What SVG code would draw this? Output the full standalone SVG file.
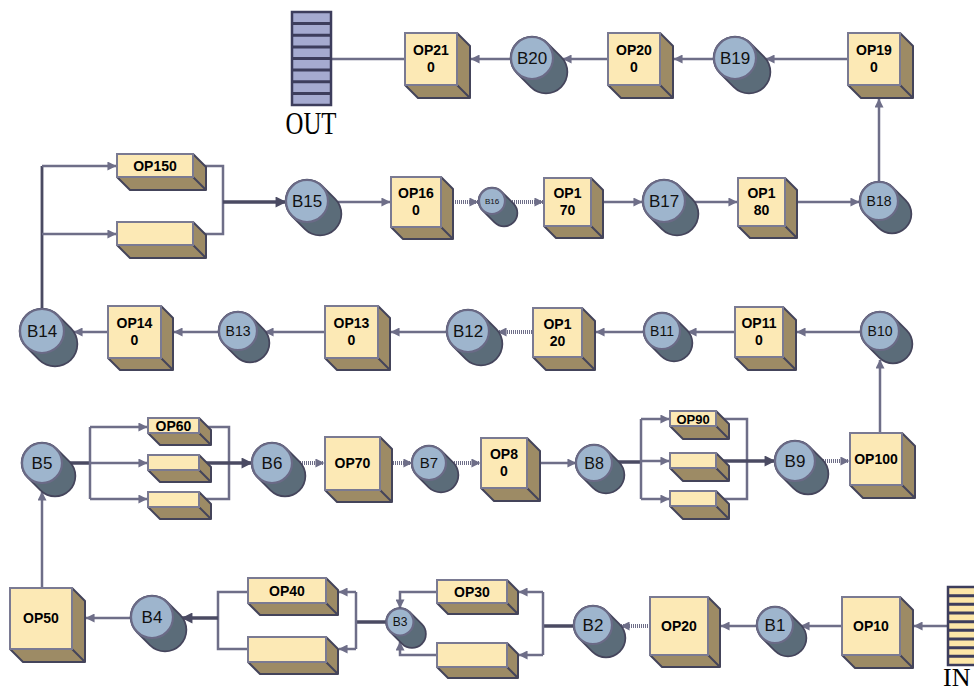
<svg xmlns="http://www.w3.org/2000/svg" width="974" height="693" viewBox="0 0 974 693">
<style>
.fr{fill:#FCE9B5;stroke:#7A7A92;stroke-width:2}
.sd{fill:#9D8B65;stroke:#44445A;stroke-width:2;stroke-linejoin:round}
.lb{font-family:"Liberation Sans",Arial,sans-serif;font-weight:bold;font-size:14px;text-anchor:middle;fill:#000}
.bl{font-family:"Liberation Sans",Arial,sans-serif;font-size:17px;text-anchor:middle;fill:#111}
.cl{fill:#9EB5CD;stroke:#6A6A86;stroke-width:2.2}
.dk{stroke:#5B6C79;stroke-linecap:round}
.dko{stroke:#45455C;stroke-linecap:round}
.c{fill:none;stroke:#6E6E88;stroke-width:2.5;marker-end:url(#a)}
.n{fill:none;stroke:#6E6E88;stroke-width:2.5}
.t{fill:none;stroke:#4A4A62;stroke-width:3.5}
.ta{fill:none;stroke:#4A4A62;stroke-width:3.5;marker-end:url(#ad)}
.h{fill:none;stroke:#6E6E88;stroke-width:4;stroke-dasharray:1 1;marker-end:url(#a)}
.stk{stroke:#3D3D5C;stroke-width:2.5}
.st{font-family:"Liberation Serif","Times New Roman",serif;font-size:31px;fill:#000}
</style>
<defs>
<marker id="a" viewBox="0 0 10 10" refX="9.5" refY="5" markerWidth="10" markerHeight="9" markerUnits="userSpaceOnUse" orient="auto"><path d="M0,0 L10,5 L0,10 z" fill="#6E6E88"/></marker>
<marker id="ad" viewBox="0 0 10 10" refX="9.5" refY="5" markerWidth="12" markerHeight="11" markerUnits="userSpaceOnUse" orient="auto"><path d="M0,0 L10,5 L0,10 z" fill="#4A4A62"/></marker>
</defs>

<g id="connectors">
<path class="c" d="M848,59 H766"/>
<path class="c" d="M720,59 H674"/>
<path class="c" d="M620,59 H563"/>
<path class="c" d="M515,59 H471"/>
<path class="n" d="M420,59 H331"/>
<path class="c" d="M879,190 V99"/>
<path class="t" d="M42,320 V166" style="stroke-width:2.8"/>
<path class="c" d="M42,166 H116"/>
<path class="c" d="M42,234 H116"/>
<path class="n" d="M200,166 H223 V234 H200"/>
<path class="ta" d="M223,202 H286"/>
<path class="c" d="M320,202 H390"/>
<path class="h" d="M445,202 H478"/>
<path class="h" d="M500,202 H543"/>
<path class="c" d="M595,202 H642"/>
<path class="c" d="M690,202 H737"/>
<path class="c" d="M790,202 H859"/>
<path class="c" d="M880,440 V360"/>
<path class="c" d="M870,332 H797"/>
<path class="c" d="M750,332 H688"/>
<path class="c" d="M650,332 H596"/>
<path class="h" d="M540,332 H498"/>
<path class="c" d="M460,332 H391"/>
<path class="c" d="M340,332 H265"/>
<path class="c" d="M230,332 H174"/>
<path class="c" d="M120,332 H74"/>
<path class="c" d="M42,600 V492"/>
<path class="t" d="M50,463 H90"/>
<path class="n" d="M90,427 V499"/>
<path class="c" d="M90,427 H147"/>
<path class="c" d="M90,463 H147"/>
<path class="c" d="M90,499 H147"/>
<path class="n" d="M205,427 H229 V499 H205"/>
<path class="ta" d="M205,463 H252"/>
<path class="h" d="M290,463 H324"/>
<path class="h" d="M385,463 H412"/>
<path class="h" d="M440,463 H480"/>
<path class="c" d="M530,463 H576"/>
<path class="t" d="M600,462 H641"/>
<path class="n" d="M641,419 V499"/>
<path class="c" d="M641,419 H669"/>
<path class="c" d="M641,461 H669"/>
<path class="c" d="M641,499 H669"/>
<path class="n" d="M720,419 H747 V499 H720"/>
<path class="ta" d="M720,461 H775"/>
<path class="h" d="M815,461 H849"/>
<path class="c" d="M960,626 H914"/>
<path class="c" d="M860,626 H801"/>
<path class="c" d="M780,626 H721"/>
<path class="h" d="M660,626 H621"/>
<path class="t" d="M590,626 H543"/>
<path class="n" d="M543,592 V655"/>
<path class="c" d="M543,592 H519"/>
<path class="c" d="M543,655 H519"/>
<path class="c" d="M450,592 H400 V608"/>
<path class="c" d="M450,655 H400 V642"/>
<path class="t" d="M395,622 H356"/>
<path class="n" d="M356,592 V649"/>
<path class="c" d="M356,592 H339"/>
<path class="c" d="M356,649 H339"/>
<path class="n" d="M260,592 H218 V649 H260"/>
<path class="ta" d="M218,618 H182"/>
<path class="c" d="M140,618 H86"/>
</g>

<g id="out">
<rect x="292" y="12" width="39" height="93" fill="#A5AAD0" class="stk"/>
<path class="stk" style="stroke-width:3" d="M292,23.6 H331 M292,35.3 H331 M292,46.9 H331 M292,58.5 H331 M292,70.1 H331 M292,81.8 H331 M292,93.4 H331"/>
<text class="st" x="311" y="134" text-anchor="middle" textLength="51" lengthAdjust="spacingAndGlyphs">OUT</text>
</g>
<g id="in">
<rect x="948" y="587" width="32" height="78" fill="#FCE6A8" class="stk"/>
<path class="stk" style="stroke-width:3" d="M948,595.7 H980 M948,604.3 H980 M948,613 H980 M948,621.7 H980 M948,630.3 H980 M948,639 H980 M948,647.7 H980 M948,656.3 H980"/>
<text class="st" x="943" y="686" style="font-size:26px">IN</text>
</g>

<g id="op210" transform="translate(405,33)"><path class="sd" d="M52,0 L65,13 L65,65 L13,65 L0,52 L52,52 Z M52,52 L65,65"/><rect class="fr" width="52" height="52"/><text class="lb" x="26" y="22">OP21</text><text class="lb" x="26" y="39">0</text></g>
<g id="op200" transform="translate(608,33)"><path class="sd" d="M52,0 L65,13 L65,65 L13,65 L0,52 L52,52 Z M52,52 L65,65"/><rect class="fr" width="52" height="52"/><text class="lb" x="26" y="22">OP20</text><text class="lb" x="26" y="39">0</text></g>
<g id="op190" transform="translate(848,33)"><path class="sd" d="M52,0 L65,13 L65,65 L13,65 L0,52 L52,52 Z M52,52 L65,65"/><rect class="fr" width="52" height="52"/><text class="lb" x="26" y="22">OP19</text><text class="lb" x="26" y="39">0</text></g>
<g id="op150" transform="translate(117,154)"><path class="sd" d="M76,0 L89,13 L89,36 L13,36 L0,23 L76,23 Z M76,23 L89,36"/><rect class="fr" width="76" height="23"/><text class="lb" x="38" y="17">OP150</text></g>
<g id="op150b" transform="translate(117,222)"><path class="sd" d="M76,0 L89,13 L89,36 L13,36 L0,23 L76,23 Z M76,23 L89,36"/><rect class="fr" width="76" height="23"/></g>
<g id="op160" transform="translate(391,177)"><path class="sd" d="M50,0 L62,12 L62,62 L12,62 L0,50 L50,50 Z M50,50 L62,62"/><rect class="fr" width="50" height="50"/><text class="lb" x="25" y="21">OP16</text><text class="lb" x="25" y="38">0</text></g>
<g id="op170" transform="translate(544,178)"><path class="sd" d="M47,0 L59,12 L59,60 L12,60 L0,48 L47,48 Z M47,48 L59,60"/><rect class="fr" width="47" height="48"/><text class="lb" x="23.5" y="20">OP1</text><text class="lb" x="23.5" y="37">70</text></g>
<g id="op180" transform="translate(738,178)"><path class="sd" d="M47,0 L59,12 L59,60 L12,60 L0,48 L47,48 Z M47,48 L59,60"/><rect class="fr" width="47" height="48"/><text class="lb" x="23.5" y="20">OP1</text><text class="lb" x="23.5" y="37">80</text></g>
<g id="op140" transform="translate(108,306)"><path class="sd" d="M53,0 L65,12 L65,64 L12,64 L0,52 L53,52 Z M53,52 L65,64"/><rect class="fr" width="53" height="52"/><text class="lb" x="26.5" y="22">OP14</text><text class="lb" x="26.5" y="39">0</text></g>
<g id="op130" transform="translate(325,306)"><path class="sd" d="M53,0 L65,12 L65,64 L12,64 L0,52 L53,52 Z M53,52 L65,64"/><rect class="fr" width="53" height="52"/><text class="lb" x="26.5" y="22">OP13</text><text class="lb" x="26.5" y="39">0</text></g>
<g id="op120" transform="translate(533,308)"><path class="sd" d="M49,0 L62,13 L62,62 L13,62 L0,49 L49,49 Z M49,49 L62,62"/><rect class="fr" width="49" height="49"/><text class="lb" x="24.5" y="21">OP1</text><text class="lb" x="24.5" y="38">20</text></g>
<g id="op110" transform="translate(735,307)"><path class="sd" d="M48,0 L61,13 L61,63 L13,63 L0,50 L48,50 Z M48,50 L61,63"/><rect class="fr" width="48" height="50"/><text class="lb" x="24" y="21">OP11</text><text class="lb" x="24" y="38">0</text></g>
<g id="op60" transform="translate(148,418)"><path class="sd" d="M51,0 L63,12 L63,27 L12,27 L0,15 L51,15 Z M51,15 L63,27"/><rect class="fr" width="51" height="15"/><text class="lb" x="25.5" y="13">OP60</text></g>
<g id="op60b" transform="translate(148,455)"><path class="sd" d="M51,0 L63,12 L63,27 L12,27 L0,15 L51,15 Z M51,15 L63,27"/><rect class="fr" width="51" height="15"/></g>
<g id="op60c" transform="translate(148,492)"><path class="sd" d="M51,0 L63,12 L63,27 L12,27 L0,15 L51,15 Z M51,15 L63,27"/><rect class="fr" width="51" height="15"/></g>
<g id="op70" transform="translate(325,437)"><path class="sd" d="M55,0 L67,12 L67,65 L12,65 L0,53 L55,53 Z M55,53 L67,65"/><rect class="fr" width="55" height="53"/><text class="lb" x="27.5" y="31">OP70</text></g>
<g id="op80" transform="translate(481,438)"><path class="sd" d="M46,0 L59,13 L59,63 L13,63 L0,50 L46,50 Z M46,50 L59,63"/><rect class="fr" width="46" height="50"/><text class="lb" x="23" y="21">OP8</text><text class="lb" x="23" y="38">0</text></g>
<g id="op90" transform="translate(670,411)"><path class="sd" d="M46,0 L59,13 L59,28 L13,28 L0,15 L46,15 Z M46,15 L59,28"/><rect class="fr" width="46" height="15"/><text class="lb" x="23" y="13" style="font-size:13px">OP90</text></g>
<g id="op90b" transform="translate(670,453)"><path class="sd" d="M46,0 L59,13 L59,28 L13,28 L0,15 L46,15 Z M46,15 L59,28"/><rect class="fr" width="46" height="15"/></g>
<g id="op90c" transform="translate(670,491)"><path class="sd" d="M46,0 L59,13 L59,28 L13,28 L0,15 L46,15 Z M46,15 L59,28"/><rect class="fr" width="46" height="15"/></g>
<g id="op100" transform="translate(850,433)"><path class="sd" d="M52,0 L65,13 L65,65 L13,65 L0,52 L52,52 Z M52,52 L65,65"/><rect class="fr" width="52" height="52"/><text class="lb" x="26" y="31">OP100</text></g>
<g id="op50" transform="translate(10,588)"><path class="sd" d="M62,0 L75,13 L75,74 L13,74 L0,61 L62,61 Z M62,61 L75,74"/><rect class="fr" width="62" height="61"/><text class="lb" x="31" y="35">OP50</text></g>
<g id="op40" transform="translate(248,578)"><path class="sd" d="M78,0 L90,12 L90,37 L12,37 L0,25 L78,25 Z M78,25 L90,37"/><rect class="fr" width="78" height="25"/><text class="lb" x="39" y="18">OP40</text></g>
<g id="op40b" transform="translate(248,637)"><path class="sd" d="M78,0 L90,12 L90,37 L12,37 L0,25 L78,25 Z M78,25 L90,37"/><rect class="fr" width="78" height="25"/></g>
<g id="op30" transform="translate(437,580)"><path class="sd" d="M70,0 L81,11 L81,34 L11,34 L0,23 L70,23 Z M70,23 L81,34"/><rect class="fr" width="70" height="23"/><text class="lb" x="35" y="17">OP30</text></g>
<g id="op30b" transform="translate(437,643)"><path class="sd" d="M70,0 L81,11 L81,35 L11,35 L0,24 L70,24 Z M70,24 L81,35"/><rect class="fr" width="70" height="24"/></g>
<g id="op20" transform="translate(650,597)"><path class="sd" d="M58,0 L70,12 L70,70 L12,70 L0,58 L58,58 Z M58,58 L70,70"/><rect class="fr" width="58" height="58"/><text class="lb" x="29" y="34">OP20</text></g>
<g id="op10" transform="translate(842,597)"><path class="sd" d="M58,0 L71,13 L71,71 L13,71 L0,58 L58,58 Z M58,58 L71,71"/><rect class="fr" width="58" height="58"/><text class="lb" x="29" y="34">OP10</text></g>

<g id="b20" transform="translate(532,58)"><line class="dko" x2="14" y2="14" stroke-width="44.5"/><line class="dk" x2="14" y2="14" stroke-width="41"/><circle class="cl" r="21"/><text class="bl" y="6">B20</text></g>
<g id="b19" transform="translate(735,58)"><line class="dko" x2="14" y2="14" stroke-width="44.5"/><line class="dk" x2="14" y2="14" stroke-width="41"/><circle class="cl" r="21"/><text class="bl" y="6">B19</text></g>
<g id="b15" transform="translate(307,201)"><line class="dko" x2="13" y2="13" stroke-width="44.5"/><line class="dk" x2="13" y2="13" stroke-width="41"/><circle class="cl" r="21"/><text class="bl" y="6">B15</text></g>
<g id="b16" transform="translate(492,201)"><line class="dko" x2="12" y2="12" stroke-width="28.5"/><line class="dk" x2="12" y2="12" stroke-width="25"/><circle class="cl" r="13"/><text class="bl" y="3" style="font-size:8px">B16</text></g>
<g id="b17" transform="translate(664,201)"><line class="dko" x2="13" y2="13" stroke-width="44.5"/><line class="dk" x2="13" y2="13" stroke-width="41"/><circle class="cl" r="21"/><text class="bl" y="6">B17</text></g>
<g id="b18" transform="translate(879,201)"><line class="dko" x2="13" y2="13" stroke-width="40.5"/><line class="dk" x2="13" y2="13" stroke-width="37"/><circle class="cl" r="19"/><text class="bl" y="5" style="font-size:14px">B18</text></g>
<g id="b14" transform="translate(42,331)"><line class="dko" x2="13" y2="13" stroke-width="46.5"/><line class="dk" x2="13" y2="13" stroke-width="43"/><circle class="cl" r="22"/><text class="bl" y="6">B14</text></g>
<g id="b13" transform="translate(238,331)"><line class="dko" x2="12" y2="12" stroke-width="40.5"/><line class="dk" x2="12" y2="12" stroke-width="37"/><circle class="cl" r="19"/><text class="bl" y="5" style="font-size:14px">B13</text></g>
<g id="b12" transform="translate(468,331)"><line class="dko" x2="13" y2="13" stroke-width="44.5"/><line class="dk" x2="13" y2="13" stroke-width="41"/><circle class="cl" r="21"/><text class="bl" y="6">B12</text></g>
<g id="b11" transform="translate(662,331)"><line class="dko" x2="12" y2="12" stroke-width="38.5"/><line class="dk" x2="12" y2="12" stroke-width="35"/><circle class="cl" r="18"/><text class="bl" y="5" style="font-size:14px">B11</text></g>
<g id="b10" transform="translate(880,331)"><line class="dko" x2="13" y2="13" stroke-width="40.5"/><line class="dk" x2="13" y2="13" stroke-width="37"/><circle class="cl" r="19"/><text class="bl" y="5" style="font-size:14px">B10</text></g>
<g id="b5" transform="translate(42,463)"><line class="dko" x2="13" y2="13" stroke-width="42.5"/><line class="dk" x2="13" y2="13" stroke-width="39"/><circle class="cl" r="20"/><text class="bl" y="6">B5</text></g>
<g id="b6" transform="translate(272,463)"><line class="dko" x2="13" y2="13" stroke-width="42.5"/><line class="dk" x2="13" y2="13" stroke-width="39"/><circle class="cl" r="20"/><text class="bl" y="6">B6</text></g>
<g id="b7" transform="translate(429,463)"><line class="dko" x2="12" y2="12" stroke-width="36.5"/><line class="dk" x2="12" y2="12" stroke-width="33"/><circle class="cl" r="17"/><text class="bl" y="5" style="font-size:15px">B7</text></g>
<g id="b8" transform="translate(594,463)"><line class="dko" x2="12" y2="12" stroke-width="38.5"/><line class="dk" x2="12" y2="12" stroke-width="35"/><circle class="cl" r="18"/><text class="bl" y="6" style="font-size:16px">B8</text></g>
<g id="b9" transform="translate(795,461)"><line class="dko" x2="13" y2="13" stroke-width="42.5"/><line class="dk" x2="13" y2="13" stroke-width="39"/><circle class="cl" r="20"/><text class="bl" y="6">B9</text></g>
<g id="b4" transform="translate(152,617)"><line class="dko" x2="13" y2="13" stroke-width="44.5"/><line class="dk" x2="13" y2="13" stroke-width="41"/><circle class="cl" r="21"/><text class="bl" y="6">B4</text></g>
<g id="b3" transform="translate(400,622)"><line class="dko" x2="12" y2="12" stroke-width="29.5"/><line class="dk" x2="12" y2="12" stroke-width="26"/><circle class="cl" r="13.5"/><text class="bl" y="4" style="font-size:12px">B3</text></g>
<g id="b2" transform="translate(593,625)"><line class="dko" x2="13" y2="13" stroke-width="40.5"/><line class="dk" x2="13" y2="13" stroke-width="37"/><circle class="cl" r="19"/><text class="bl" y="6">B2</text></g>
<g id="b1" transform="translate(775,625)"><line class="dko" x2="13" y2="13" stroke-width="38.5"/><line class="dk" x2="13" y2="13" stroke-width="35"/><circle class="cl" r="18"/><text class="bl" y="6">B1</text></g>
</svg>
